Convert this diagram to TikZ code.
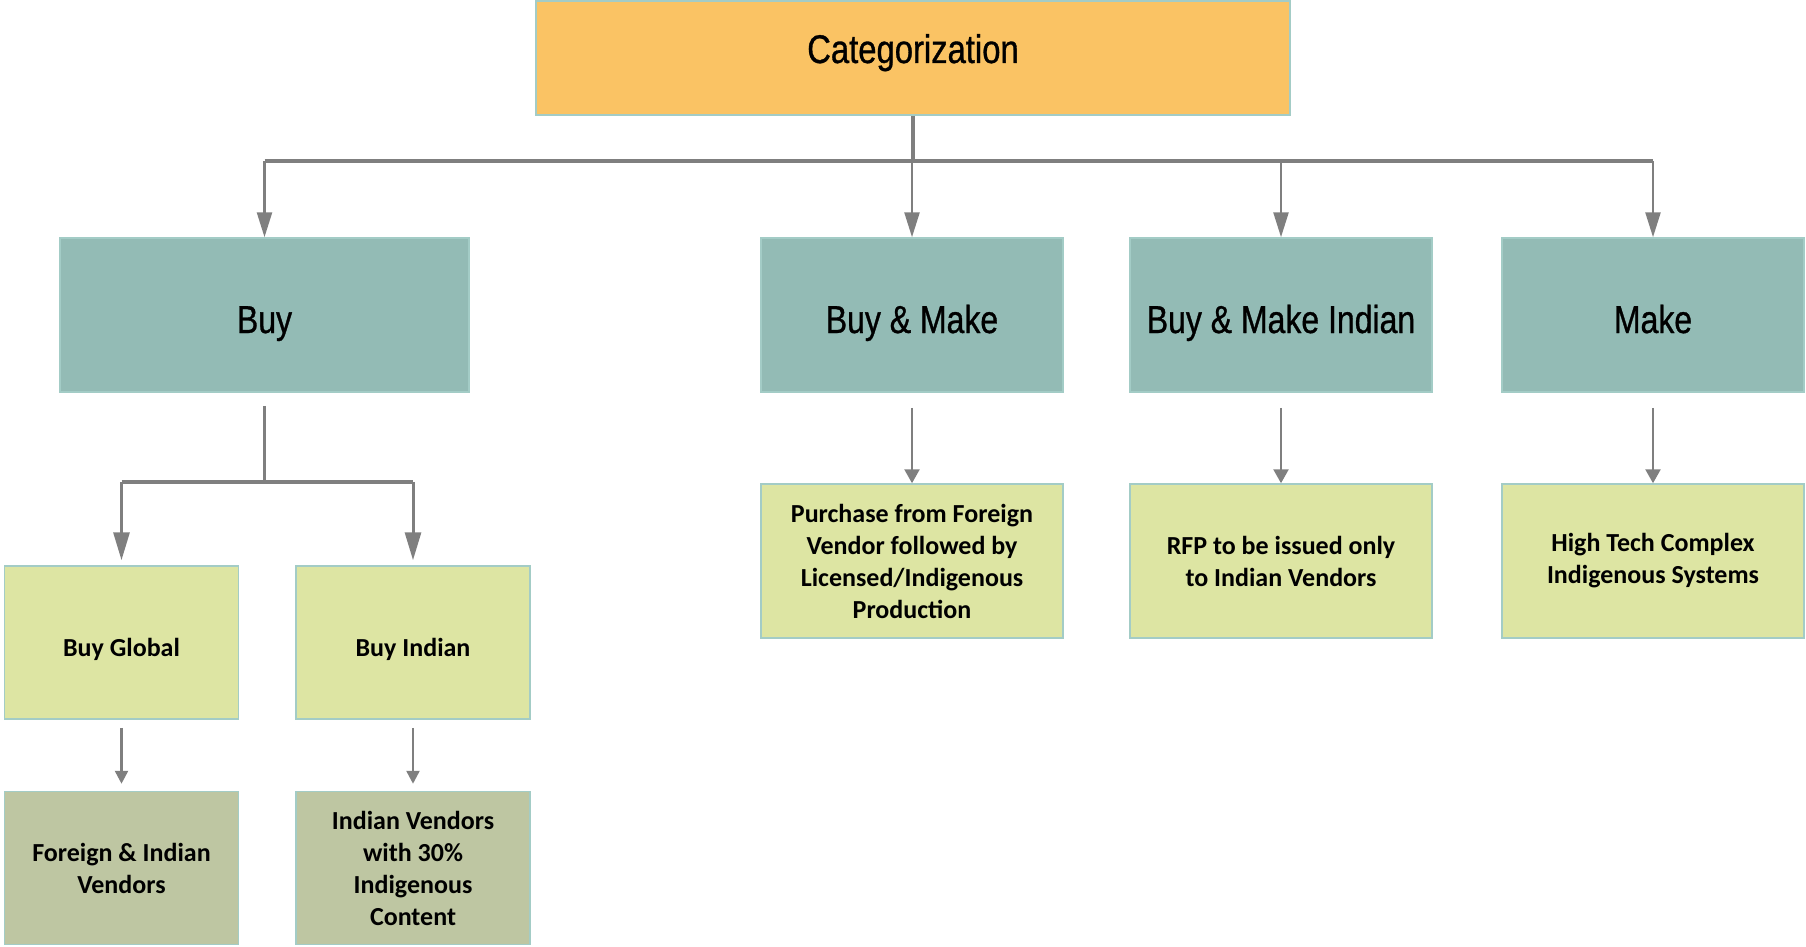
\documentclass[tikz,border=0pt]{standalone}
\usepackage{fontspec}
\setmainfont{Carlito}
\newfontfamily\headfont[FakeStretch=0.82,FakeBold=0.8]{Liberation Sans}
\usetikzlibrary{arrows.meta,calc}

\definecolor{catfill}{HTML}{FAC364}
\definecolor{tealfill}{HTML}{93BBB5}
\definecolor{limefill}{HTML}{DDE5A3}
\definecolor{olivefill}{HTML}{BEC6A2}
\definecolor{boxedge}{HTML}{A3CCC6}
\definecolor{wire}{HTML}{7F7F7F}

\tikzset{
  box/.style={draw=boxedge, line width=1.5pt, inner sep=0pt, align=center},
  topbox/.style={box, fill=catfill, minimum width=754pt, minimum height=114pt,
    text height=10pt, text depth=0pt,
    font=\headfont\fontsize{40}{48}\selectfont},
  catbox/.style={box, fill=tealfill, minimum width=302pt, minimum height=154pt,
    text height=36pt, text depth=0pt,
    font=\headfont\fontsize{39}{47}\selectfont},
  detailbox/.style={box, fill=limefill, minimum width=302pt, minimum height=154pt,
    font=\bfseries\fontsize{26}{32}\selectfont},
  subbox/.style={box, fill=limefill, minimum width=234pt, minimum height=153pt,
    font=\bfseries\fontsize{26}{32}\selectfont},
  labelbox/.style={subbox, text height=28pt, text depth=0pt},
  vendorbox/.style={subbox, fill=olivefill},
  bus/.style={draw=wire, line width=3.5pt},
  toparrow/.style={draw=wire, line width=2.5pt, -{Triangle[width=15pt,length=25pt]}},
  midarrow/.style={draw=wire, line width=2.5pt, -{Triangle[width=15pt,length=14pt]}},
  bigarrow/.style={draw=wire, line width=3pt, -{Triangle[width=16pt,length=28pt]}},
  smallarrow/.style={draw=wire, line width=2.5pt, -{Triangle[width=13pt,length=13pt]}},
}

\begin{document}
\begin{tikzpicture}[x=1pt, y=-1pt]
  \path[use as bounding box] (0,0) rectangle (1806,947);

  % root
  \node[topbox] (cat) at (913,58) {Categorization};

  % main categories
  \node[catbox, minimum width=409pt] (buy) at (264.5,315) {Buy};
  \node[catbox] (bm)  at (912,315)  {Buy \& Make};
  \node[catbox] (bmi) at (1281,315) {Buy \& Make Indian};
  \node[catbox] (mk)  at (1653,315) {Make};

  % descriptions
  \node[detailbox] (pf)  at (912,561)  {Purchase from Foreign\\Vendor followed by\\Licensed/Indigenous\\Production};
  \node[detailbox] (rfp) at (1281,561) {RFP to be issued only\\to Indian Vendors};
  \node[detailbox] (ht)  at (1653,561) {High Tech Complex\\Indigenous Systems};

  % buy sub-categories
  \node[labelbox] (bg) at (121.5,642.5) {Buy Global};
  \node[labelbox] (bi) at (413,642.5)   {Buy Indian};
  \node[vendorbox] (fi) at (121.5,868) {Foreign \& Indian\\Vendors};
  \node[vendorbox] (iv) at (413,868)   {Indian Vendors\\with 30\%\\Indigenous\\Content};

  % top-level distribution bus
  \coordinate (hub) at (913,161);
  \draw[bus] (cat.south) -- (hub);
  \draw[bus] (hub -| buy.north) -- (hub -| mk.north);
  \draw[toparrow] (hub -| buy.north) -- (buy.north);
  \draw[toparrow] (hub -| bm.north)  -- (bm.north);
  \draw[toparrow] (hub -| bmi.north) -- (bmi.north);
  \draw[toparrow] (hub -| mk.north)  -- (mk.north);

  % category to description
  \draw[midarrow] ($(bm.south)+(0,15)$)  -- (pf.north);
  \draw[midarrow] ($(bmi.south)+(0,15)$) -- (rfp.north);
  \draw[midarrow] ($(mk.south)+(0,15)$)  -- (ht.north);

  % buy split
  \coordinate (split) at ($(buy.south)+(0,89)$);
  \draw[bus] ($(buy.south)+(0,13)$) -- (split);
  \draw[bus] (split -| bg.north) -- (split -| bi.north);
  \draw[bigarrow, shorten >=5pt] (split -| bg.north) -- (bg.north);
  \draw[bigarrow, shorten >=5pt] (split -| bi.north) -- (bi.north);

  % vendor rules
  \draw[smallarrow, shorten >=7pt] ($(bg.south)+(0,8)$) -- (fi.north);
  \draw[smallarrow, shorten >=7pt] ($(bi.south)+(0,8)$) -- (iv.north);
\end{tikzpicture}
\end{document}
